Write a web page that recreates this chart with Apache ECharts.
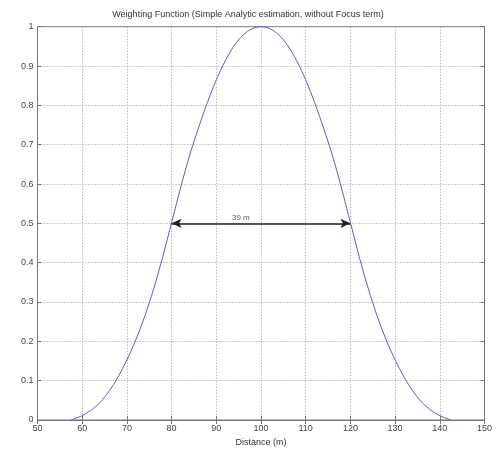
<!DOCTYPE html>
<html>
<head>
<meta charset="utf-8">
<script src="https://cdn.jsdelivr.net/npm/echarts@6/dist/echarts.min.js"></script>
<style>html,body{margin:0;padding:0;background:#fff}#c{width:496px;height:455px}</style>
</head>
<body>
<div id="c"></div>
<script>
var titleText = 'Weighting Function (Simple Analytic estimation, without Focus term)';
var xName = 'Distance (m)';
var distance = [57.5, 58, 60, 62, 64, 66, 68, 70, 72, 74, 76, 78, 80, 82, 84, 86, 88, 90, 92, 94, 96, 98, 100,
                102, 104, 106, 108, 110, 112, 114, 116, 118, 120, 122, 124, 126, 128, 130, 132, 134, 136, 138, 140, 142, 142.5];
var weight = [0, 0.002, 0.011, 0.025, 0.045, 0.073, 0.109, 0.153, 0.204, 0.264, 0.334, 0.414, 0.502, 0.590, 0.672, 0.742, 0.807, 0.865, 0.913, 0.952, 0.979, 0.995, 1,
              0.995, 0.979, 0.952, 0.913, 0.865, 0.807, 0.742, 0.672, 0.590, 0.502, 0.414, 0.334, 0.264, 0.204, 0.153, 0.109, 0.073, 0.045, 0.025, 0.011, 0.002, 0];
var arrowStart = [80, 0.5];
var arrowEnd = [120, 0.5];
var arrowLabel = '39 m';
var arrowLabelAt = [95.5, 0.5];

var curve = distance.map(function (d, i) { return [d, weight[i]]; });
var font = 'Liberation Sans, Arial, sans-serif';
var chart = echarts.init(document.getElementById('c'));
var gridLine = { show: true, lineStyle: { color: '#9a9a9a', type: [1, 2], width: 1 } };
chart.setOption({
  animation: false,
  title: {
    text: titleText, left: 'center', top: 5,
    textStyle: { fontSize: 9, fontWeight: 'normal', color: '#333', fontFamily: font }
  },
  grid: { left: 37.5, right: 11.5, top: 26.7, bottom: 35, show: true, borderColor: '#777', borderWidth: 1 },
  xAxis: [{
    type: 'value', min: 50, max: 150, interval: 10,
    name: xName, nameLocation: 'middle', nameGap: 17,
    nameTextStyle: { fontSize: 9, color: '#333', fontFamily: font },
    axisLine: { show: true, lineStyle: { color: '#777' } },
    axisTick: { show: true, inside: true, length: 4, lineStyle: { color: '#777' } },
    axisLabel: { fontSize: 9, color: '#444', fontFamily: font, margin: 4 },
    splitLine: gridLine
  }, {
    type: 'value', min: 50, max: 150, interval: 10, position: 'top',
    axisLine: { show: true, lineStyle: { color: '#777' } },
    axisTick: { show: true, inside: true, length: 4, lineStyle: { color: '#777' } },
    axisLabel: { show: false }, splitLine: { show: false }
  }],
  yAxis: [{
    type: 'value', min: 0, max: 1, interval: 0.1,
    axisLine: { show: true, lineStyle: { color: '#777' } },
    axisTick: { show: true, inside: true, length: 4, lineStyle: { color: '#777' } },
    axisLabel: { fontSize: 9, color: '#444', fontFamily: font, margin: 4,
      formatter: function (v) { return String(Math.round(v * 10) / 10); } },
    splitLine: gridLine
  }, {
    type: 'value', min: 0, max: 1, interval: 0.1, position: 'right',
    axisLine: { show: true, lineStyle: { color: '#777' } },
    axisTick: { show: true, inside: true, length: 4, lineStyle: { color: '#777' } },
    axisLabel: { show: false }, splitLine: { show: false }
  }],
  series: [{
    type: 'line', data: curve, smooth: 0.3, showSymbol: false,
    lineStyle: { color: '#5c5cd6', width: 1 },
    markLine: {
      silent: true, symbol: ['arrow', 'arrow'], symbolSize: [7, 10],
      lineStyle: { color: '#222', type: 'solid', width: 1.5 },
      label: { show: false },
      data: [[{ coord: arrowStart }, { coord: arrowEnd }]]
    }
  }, {
    type: 'scatter', data: [arrowLabelAt], symbolSize: 0,
    label: { show: true, position: 'top', distance: 2, formatter: arrowLabel,
      fontSize: 8, color: '#333', fontFamily: font }
  }]
});
</script>
</body>
</html>
